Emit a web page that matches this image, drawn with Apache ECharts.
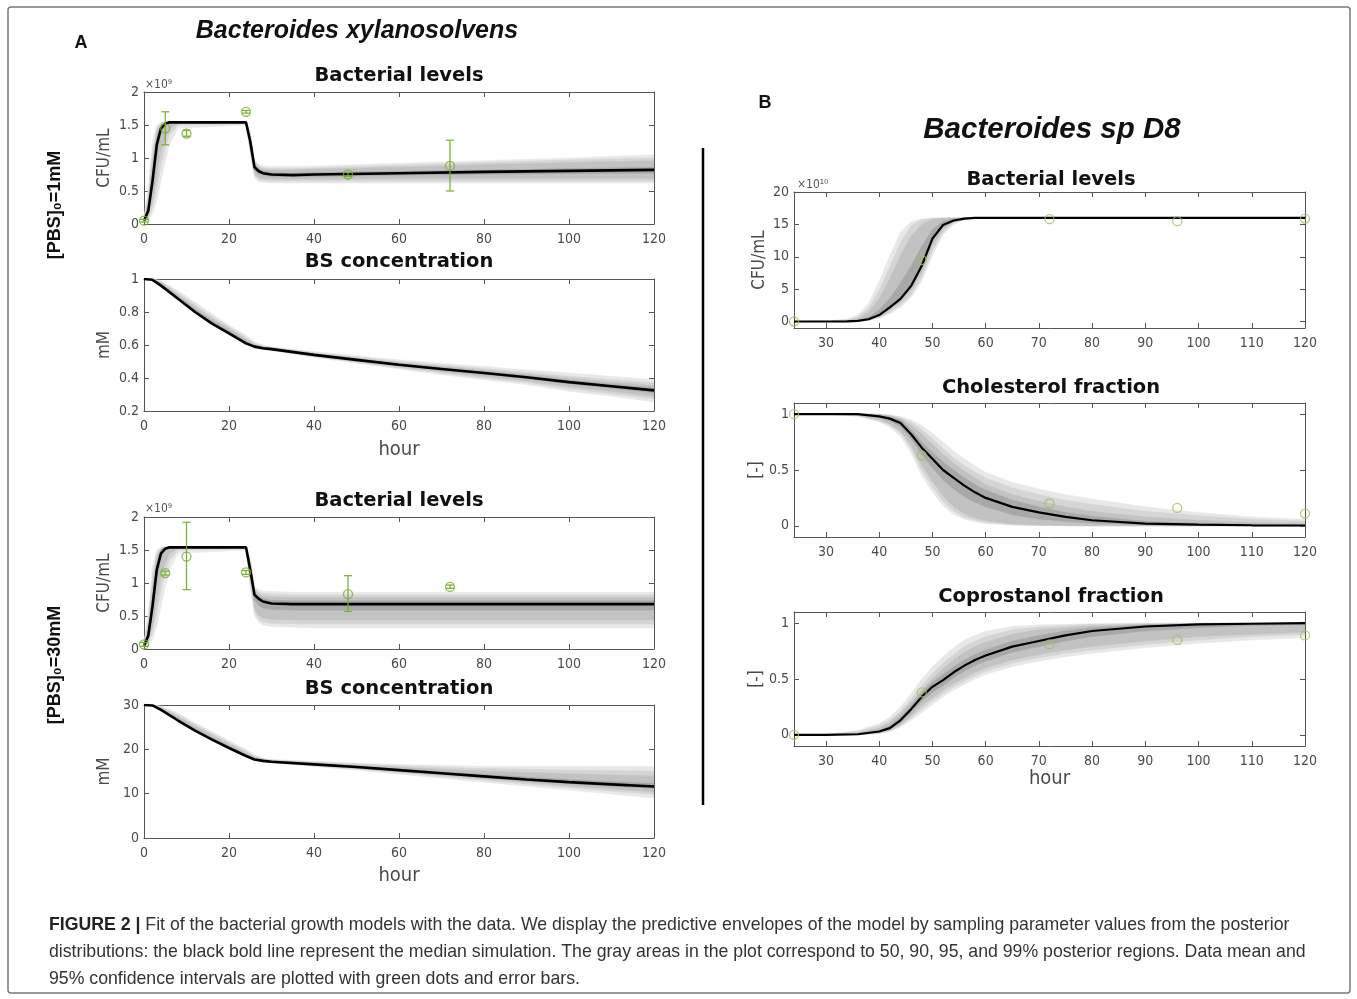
<!DOCTYPE html>
<html><head><meta charset="utf-8">
<script src="https://cdn.jsdelivr.net/npm/echarts@6/dist/echarts.min.js"></script>
<style>html,body{margin:0;padding:0;background:#fff}#c{width:1357px;height:999px}</style>
</head><body><div id="c"></div>
<script>
// ---------------- DATA ----------------
// Panel A, [PBS]0 = 1 mM and 30 mM : bacterial levels (x 1e9 CFU/mL)
const hoursA = [0,1,2,3,4,5,6,8,24,25,26,27,28,30,35,40,60,80,100,120];
const a1Median = [0.05,0.2,0.65,1.2,1.45,1.52,1.54,1.54,1.54,1.25,0.86,0.8,0.77,0.75,0.74,0.75,0.77,0.79,0.805,0.82];
const a1Lo99 = [0.03,0.06,0.15,0.35,0.65,0.95,1.2,1.45,1.5,1.05,0.7,0.64,0.63,0.62,0.62,0.62,0.62,0.62,0.62,0.62];
const a1Hi99 = [0.1,0.55,1.25,1.5,1.54,1.55,1.55,1.55,1.55,1.4,0.98,0.9,0.88,0.87,0.87,0.88,0.92,0.96,1.0,1.05];
const a1Lo95 = [0.04,0.09,0.25,0.55,0.9,1.15,1.35,1.5,1.52,1.1,0.73,0.67,0.66,0.65,0.65,0.65,0.65,0.65,0.65,0.65];
const a1Hi95 = [0.08,0.45,1.1,1.45,1.53,1.54,1.55,1.55,1.55,1.37,0.95,0.88,0.85,0.84,0.84,0.85,0.89,0.93,0.97,1.0];
const a1Lo90 = [0.04,0.12,0.35,0.75,1.1,1.3,1.45,1.52,1.53,1.15,0.76,0.7,0.69,0.68,0.68,0.68,0.69,0.69,0.69,0.69];
const a1Hi90 = [0.07,0.35,0.95,1.4,1.52,1.54,1.55,1.55,1.55,1.33,0.92,0.86,0.83,0.82,0.82,0.83,0.86,0.9,0.93,0.96];
const a1Lo50 = [0.05,0.17,0.55,1.05,1.38,1.5,1.53,1.54,1.54,1.22,0.82,0.76,0.74,0.72,0.72,0.72,0.74,0.75,0.76,0.77];
const a1Hi50 = [0.06,0.25,0.8,1.3,1.5,1.53,1.54,1.54,1.54,1.29,0.89,0.83,0.8,0.78,0.77,0.78,0.8,0.82,0.84,0.86];
const a1ObsHours = [0,5,10,24,48,72];
const a1ObsMean = [0.05,1.45,1.37,1.7,0.75,0.88];
const a1ObsLow  = [0.03,1.2,1.33,1.68,0.72,0.5];
const a1ObsHigh = [0.07,1.7,1.42,1.72,0.78,1.27];

const a3Median = [0.05,0.2,0.65,1.2,1.45,1.52,1.54,1.54,1.54,1.2,0.82,0.76,0.72,0.69,0.68,0.68,0.68,0.68,0.68,0.68];
const a3Lo99 = [0.03,0.06,0.15,0.35,0.65,0.95,1.2,1.45,1.5,0.95,0.5,0.4,0.36,0.34,0.33,0.32,0.32,0.32,0.32,0.32];
const a3Hi99 = [0.1,0.55,1.25,1.5,1.54,1.55,1.55,1.55,1.55,1.38,0.95,0.9,0.88,0.87,0.86,0.86,0.86,0.86,0.86,0.86];
const a3Lo95 = [0.04,0.09,0.25,0.55,0.9,1.15,1.35,1.5,1.52,1.0,0.56,0.45,0.41,0.39,0.38,0.38,0.38,0.38,0.38,0.38];
const a3Hi95 = [0.08,0.45,1.1,1.45,1.53,1.54,1.55,1.55,1.55,1.34,0.92,0.86,0.84,0.83,0.82,0.82,0.82,0.82,0.82,0.82];
const a3Lo90 = [0.04,0.12,0.35,0.75,1.1,1.3,1.45,1.52,1.53,1.05,0.62,0.51,0.47,0.45,0.44,0.44,0.44,0.44,0.44,0.44];
const a3Hi90 = [0.07,0.35,0.95,1.4,1.52,1.54,1.55,1.55,1.55,1.3,0.9,0.83,0.8,0.79,0.78,0.78,0.78,0.78,0.78,0.78];
const a3Lo50 = [0.05,0.17,0.55,1.05,1.38,1.5,1.53,1.54,1.54,1.14,0.74,0.66,0.62,0.6,0.59,0.59,0.59,0.59,0.59,0.59];
const a3Hi50 = [0.06,0.25,0.8,1.3,1.5,1.53,1.54,1.54,1.54,1.25,0.86,0.8,0.76,0.74,0.73,0.73,0.73,0.73,0.73,0.73];
const a3ObsHours = [0,5,10,24,48,72];
const a3ObsMean = [0.07,1.15,1.4,1.16,0.83,0.94];
const a3ObsLow  = [0.04,1.12,0.9,1.13,0.57,0.92];
const a3ObsHigh = [0.1,1.18,1.92,1.19,1.11,0.97];

// Panel A : BS concentration (mM)
const hoursBS = [0,2,4,8,12,16,20,24,26,28,30,40,50,60,70,80,90,100,110,120];
const a2Median = [1,0.995,0.96,0.88,0.8,0.73,0.67,0.61,0.59,0.58,0.575,0.54,0.51,0.48,0.455,0.43,0.405,0.375,0.35,0.325];
const a2Lo99 = [1,0.99,0.955,0.875,0.795,0.725,0.665,0.6,0.58,0.57,0.565,0.525,0.49,0.455,0.42,0.39,0.36,0.32,0.29,0.255];
const a2Hi99 = [1,1,0.99,0.93,0.86,0.79,0.72,0.66,0.62,0.6,0.59,0.56,0.535,0.51,0.49,0.47,0.45,0.43,0.41,0.39];
const a2Lo95 = [1,0.992,0.957,0.877,0.797,0.727,0.667,0.603,0.583,0.573,0.567,0.53,0.495,0.462,0.43,0.4,0.372,0.335,0.305,0.275];
const a2Hi95 = [1,1,0.985,0.915,0.845,0.775,0.71,0.645,0.61,0.595,0.587,0.553,0.527,0.5,0.478,0.457,0.435,0.41,0.39,0.37];
const a2Lo90 = [1,0.993,0.958,0.878,0.798,0.728,0.668,0.605,0.585,0.575,0.57,0.533,0.5,0.467,0.438,0.41,0.383,0.348,0.32,0.29];
const a2Hi90 = [1,0.998,0.978,0.905,0.83,0.76,0.7,0.635,0.603,0.59,0.583,0.549,0.521,0.494,0.471,0.448,0.425,0.398,0.375,0.355];
const a2Lo50 = [1,0.994,0.959,0.879,0.799,0.729,0.669,0.608,0.588,0.578,0.572,0.537,0.506,0.475,0.448,0.422,0.396,0.365,0.338,0.31];
const a2Hi50 = [1,0.997,0.97,0.892,0.815,0.745,0.685,0.622,0.597,0.585,0.579,0.545,0.515,0.486,0.462,0.438,0.414,0.386,0.362,0.34];

const a4Median = [30,29.9,28.9,26.5,24.2,22.2,20.3,18.5,17.7,17.4,17.2,16.6,16,15.3,14.6,13.9,13.2,12.6,12.1,11.6];
const a4Lo99 = [30,29.8,28.8,26.4,24.1,22.1,20.2,18.3,17.5,17.1,16.9,16.1,15.3,14.4,13.5,12.6,11.7,10.8,9.9,9.0];
const a4Hi99 = [30,30,29.8,28.2,26,24,22,20,18.8,18,17.7,17.3,16.9,16.6,16.4,16.2,16.1,16.1,16.1,16.1];
const a4Lo95 = [30,29.85,28.85,26.45,24.15,22.15,20.25,18.4,17.6,17.2,17.0,16.3,15.55,14.7,13.9,13.05,12.2,11.4,10.6,9.8];
const a4Hi95 = [30,30,29.6,27.8,25.6,23.6,21.6,19.6,18.5,17.85,17.6,17.15,16.7,16.3,15.95,15.7,15.5,15.3,15.2,15.1];
const a4Lo90 = [30,29.87,28.87,26.47,24.17,22.17,20.27,18.43,17.63,17.27,17.07,16.4,15.7,14.9,14.15,13.35,12.55,11.8,11.1,10.4];
const a4Hi90 = [30,29.98,29.4,27.4,25.2,23.2,21.2,19.2,18.2,17.7,17.45,16.95,16.45,15.95,15.5,15.1,14.8,14.5,14.2,14.0];
const a4Lo50 = [30,29.88,28.88,26.48,24.18,22.18,20.28,18.46,17.67,17.33,17.13,16.5,15.85,15.1,14.4,13.65,12.9,12.25,11.7,11.15];
const a4Hi50 = [30,29.95,29.15,26.9,24.6,22.6,20.7,18.8,17.9,17.55,17.33,16.75,16.2,15.6,14.95,14.35,13.75,13.2,12.75,12.3];

// Panel B : Bacteroides sp D8, bacterial levels (x 1e10 CFU/mL)
const hoursB1 = [24,30,34,36,38,40,42,44,46,48,50,52,54,56,58,60,65,70,80,90,100,110,120];
const b1Median = [0,0,0.02,0.1,0.35,1.0,2.2,3.5,5.5,8.6,12.8,14.9,15.6,15.9,16,16,16,16,16,16,16,16,16];
const b1Lo99 = [0,0,0,0.03,0.15,0.5,1.2,2.2,3.7,6.2,10.2,13.4,15,15.7,15.9,16,16,16,16,16,16,16,16];
const b1Hi99 = [0,0.05,0.4,1.0,2.8,6.2,10.2,13.8,15.4,15.85,16,16,16,16,16,16,16,16,16,16,16,16,16];
const b1Lo95 = [0,0,0.005,0.05,0.2,0.6,1.4,2.5,4.1,6.8,10.9,13.8,15.2,15.75,15.95,16,16,16,16,16,16,16,16];
const b1Hi95 = [0,0.03,0.25,0.7,2.0,4.8,8.4,12.2,14.8,15.7,15.95,16,16,16,16,16,16,16,16,16,16,16,16];
const b1Lo90 = [0,0,0.01,0.07,0.27,0.8,1.8,3.0,4.8,7.6,11.7,14.3,15.4,15.85,16,16,16,16,16,16,16,16,16];
const b1Hi90 = [0,0.02,0.15,0.45,1.4,3.5,6.6,10.2,13.2,15.0,15.8,15.95,16,16,16,16,16,16,16,16,16,16,16];
const b1Lo50 = [0,0,0.015,0.08,0.31,0.9,2.0,3.3,5.2,8.2,12.4,14.7,15.5,15.9,16,16,16,16,16,16,16,16,16];
const b1Hi50 = [0,0.01,0.05,0.2,0.65,1.8,3.6,5.9,8.6,11.6,14.2,15.5,15.85,16,16,16,16,16,16,16,16,16,16];
const b1ObsHours = [24,48,72,96,120];
const b1ObsMean = [0,9.5,15.8,15.5,15.9];

// Panel B : cholesterol and coprostanol fractions
const hoursB23 = [24,30,36,40,42,44,46,48,50,52,54,56,58,60,65,70,75,80,90,100,110,120];
const b2Median = [1,1,1,0.98,0.96,0.92,0.82,0.7,0.6,0.5,0.43,0.36,0.3,0.25,0.17,0.12,0.08,0.05,0.02,0.01,0.005,0.003];
const b2Lo99 = [1,1,0.98,0.93,0.88,0.8,0.65,0.45,0.3,0.18,0.1,0.06,0.035,0.02,0.006,0.002,0,0,0,0,0,0];
const b2Hi99 = [1,1,1,1,0.995,0.98,0.95,0.9,0.83,0.75,0.67,0.6,0.54,0.48,0.39,0.33,0.28,0.24,0.17,0.12,0.08,0.06];
const b2Lo95 = [1,1,0.985,0.94,0.9,0.83,0.69,0.5,0.35,0.22,0.13,0.08,0.05,0.03,0.01,0.004,0.001,0,0,0,0,0];
const b2Hi95 = [1,1,1,1,0.99,0.97,0.93,0.86,0.78,0.69,0.61,0.54,0.48,0.43,0.34,0.28,0.23,0.19,0.13,0.09,0.06,0.04];
const b2Lo90 = [1,1,0.99,0.95,0.91,0.85,0.72,0.55,0.4,0.27,0.17,0.11,0.07,0.045,0.018,0.007,0.003,0.001,0,0,0,0];
const b2Hi90 = [1,1,1,1,0.985,0.96,0.9,0.82,0.73,0.64,0.56,0.49,0.43,0.37,0.28,0.22,0.17,0.13,0.08,0.05,0.03,0.02];
const b2Lo50 = [1,1,0.995,0.97,0.94,0.89,0.78,0.64,0.52,0.41,0.33,0.26,0.21,0.17,0.1,0.06,0.04,0.025,0.01,0.004,0.002,0.001];
const b2Hi50 = [1,1,1,0.99,0.975,0.95,0.86,0.75,0.66,0.57,0.5,0.43,0.37,0.32,0.23,0.17,0.12,0.085,0.04,0.02,0.012,0.008];
const b2ObsHours = [24,48,72,96,120];
const b2ObsMean = [1,0.63,0.2,0.16,0.11];

const b3Median = [0,0,0.005,0.03,0.06,0.13,0.23,0.34,0.43,0.49,0.56,0.62,0.67,0.71,0.79,0.84,0.89,0.93,0.97,0.99,0.995,1.0];
const b3Lo99 = [0,0,0,0.01,0.03,0.07,0.13,0.2,0.27,0.34,0.4,0.45,0.5,0.54,0.61,0.66,0.7,0.73,0.78,0.82,0.85,0.87];
const b3Hi99 = [0,0.005,0.04,0.1,0.16,0.25,0.37,0.5,0.61,0.7,0.78,0.85,0.89,0.93,0.97,0.985,0.99,0.995,1,1,1,1];
const b3Lo95 = [0,0,0.001,0.015,0.035,0.08,0.15,0.23,0.3,0.37,0.43,0.48,0.53,0.57,0.64,0.69,0.73,0.76,0.81,0.85,0.88,0.9];
const b3Hi95 = [0,0.003,0.03,0.08,0.13,0.21,0.32,0.44,0.55,0.64,0.72,0.79,0.84,0.88,0.94,0.965,0.98,0.99,0.998,1,1,1];
const b3Lo90 = [0,0,0.002,0.02,0.04,0.09,0.17,0.26,0.33,0.4,0.46,0.51,0.56,0.6,0.67,0.72,0.76,0.79,0.84,0.88,0.9,0.92];
const b3Hi90 = [0,0.002,0.02,0.06,0.11,0.19,0.29,0.4,0.5,0.59,0.67,0.74,0.79,0.83,0.9,0.94,0.96,0.975,0.99,0.997,1,1];
const b3Lo50 = [0,0,0.003,0.025,0.05,0.11,0.2,0.3,0.38,0.44,0.51,0.57,0.62,0.66,0.74,0.79,0.84,0.88,0.93,0.96,0.98,0.985];
const b3Hi50 = [0,0.001,0.01,0.04,0.08,0.16,0.26,0.38,0.47,0.54,0.61,0.67,0.72,0.76,0.84,0.89,0.93,0.96,0.985,0.995,0.998,1];
const b3ObsHours = [24,48,72,96,120];
const b3ObsMean = [0,0.38,0.81,0.85,0.89];

// Tick labels
const ticksHoursB = [30,40,50,60,70,80,90,100,110,120];
const ticksCFU_B = [0,5,10,15,20];
const ticksFrac = [0,0.5,1];

// ---------------- STYLE / LAYOUT ----------------
const FONT = "'DejaVu Sans Condensed','DejaVu Sans',sans-serif";
const TFONT = "'DejaVu Sans',sans-serif";
const SANS = "'Liberation Sans',Arial,sans-serif";
const AX = '#555';
const LBL = '#4a4a4a';
const GREEN = '#77AC30';
const GREEN_B = '#9cc25e';
const BAND_COLORS = ['#e8e8e8', '#d5d5d5', '#c2c2c2', '#a8a8a8'];

const grids = [
  {left:144, top:92,  width:510, height:132},
  {left:144, top:279, width:510, height:132},
  {left:144, top:517, width:510, height:132},
  {left:144, top:705, width:510, height:133},
  {left:794, top:192, width:511, height:136},
  {left:794, top:403, width:511, height:134},
  {left:794, top:612, width:511, height:134}
];

const xAxes = [], yAxes = [], series = [];

function axisPair(list, gi, dir, spec, name, nameGap) {
  const isX = dir === 'x';
  const base = {
    gridIndex: gi, type: 'value', min: spec.min, max: spec.max,
    splitLine: {show: false},
    axisLine: {show: true, onZero: false, lineStyle: {color: AX, width: 1}},
  };
  if (spec.interval != null) base.interval = spec.interval;
  const tick = {show: true, inside: true, length: 5, lineStyle: {color: AX, width: 1}};
  if (spec.custom) tick.customValues = spec.custom;
  const lab = {show: true, color: LBL, fontSize: 14, fontFamily: FONT, margin: isX ? 8 : 5};
  if (spec.custom) lab.customValues = spec.custom;
  const main = Object.assign({}, base, {
    position: isX ? 'bottom' : 'left',
    axisTick: tick, axisLabel: lab
  });
  if (name) {
    main.name = name; main.nameLocation = 'middle'; main.nameGap = nameGap;
    main.nameTextStyle = {color: LBL, fontSize: isX ? 20 : 17, fontFamily: FONT};
  }
  const mirror = Object.assign({}, base, {
    position: isX ? 'top' : 'right',
    axisTick: Object.assign({}, tick), axisLabel: {show: false}
  });
  list.push(main, mirror);
}

function addPanel(gi, hours, median, bands, lineWidth) {
  bands.forEach((b, j) => {
    const lo = b[0], hi = b[1];
    series.push({
      type: 'custom', xAxisIndex: 2*gi, yAxisIndex: 2*gi, silent: true, z: 1, clip: true,
      data: hours.map((t, k) => [t, lo[k], hi[k]]),
      encode: {x: 0, y: [1, 2]},
      renderItem: function (params, api) {
        if (params.dataIndex !== 0) return null;
        const pts = [];
        for (let k = 0; k < hours.length; k++) pts.push(api.coord([hours[k], hi[k]]));
        for (let k = hours.length - 1; k >= 0; k--) pts.push(api.coord([hours[k], lo[k]]));
        return {type: 'polygon', shape: {points: pts},
          style: {fill: BAND_COLORS[j], stroke: BAND_COLORS[j], lineWidth: 0.5}};
      }
    });
  });
  series.push({
    type: 'line', xAxisIndex: 2*gi, yAxisIndex: 2*gi,
    data: hours.map((t, k) => [t, median[k]]), symbol: 'none', silent: true,
    lineStyle: {color: '#000', width: lineWidth}, z: 3
  });
}

function addObs(gi, hours, mean, color, low, high) {
  if (low) {
    series.push({
      type: 'custom', xAxisIndex: 2*gi, yAxisIndex: 2*gi, z: 4, silent: true,
      data: hours.map((t, k) => [t, low[k], high[k]]),
      encode: {x: 0, y: [1, 2]},
      renderItem: function (params, api) {
        const x = api.value(0);
        const p1 = api.coord([x, api.value(1)]);
        const p2 = api.coord([x, api.value(2)]);
        const w = 4;
        const st = {stroke: color, lineWidth: 1.2};
        return {type: 'group', children: [
          {type: 'line', shape: {x1: p1[0], y1: p1[1], x2: p2[0], y2: p2[1]}, style: st},
          {type: 'line', shape: {x1: p1[0]-w, y1: p1[1], x2: p1[0]+w, y2: p1[1]}, style: st},
          {type: 'line', shape: {x1: p2[0]-w, y1: p2[1], x2: p2[0]+w, y2: p2[1]}, style: st}
        ]};
      }
    });
  }
  series.push({
    type: 'scatter', xAxisIndex: 2*gi, yAxisIndex: 2*gi, z: 5, silent: true,
    data: hours.map((t, k) => [t, mean[k]]), symbol: 'circle', symbolSize: 9, clip: false,
    itemStyle: {color: 'rgba(255,255,255,0)', borderColor: color, borderWidth: 1.3}
  });
}

// axes
const xA = {min: 0, max: 120, interval: 20};
const xB = {min: 24, max: 120, custom: ticksHoursB};
axisPair(xAxes, 0, 'x', xA); axisPair(yAxes, 0, 'y', {min: 0, max: 2, interval: 0.5}, 'CFU/mL', 31);
axisPair(xAxes, 1, 'x', xA, 'hour', 29); axisPair(yAxes, 1, 'y', {min: 0.2, max: 1, interval: 0.2}, 'mM', 31);
axisPair(xAxes, 2, 'x', xA); axisPair(yAxes, 2, 'y', {min: 0, max: 2, interval: 0.5}, 'CFU/mL', 31);
axisPair(xAxes, 3, 'x', xA, 'hour', 28); axisPair(yAxes, 3, 'y', {min: 0, max: 30, interval: 10}, 'mM', 31);
axisPair(xAxes, 4, 'x', xB); axisPair(yAxes, 4, 'y', {min: -1, max: 20, custom: ticksCFU_B}, 'CFU/mL', 26);
axisPair(xAxes, 5, 'x', xB); axisPair(yAxes, 5, 'y', {min: -0.1, max: 1.1, custom: ticksFrac}, '[-]', 28);
axisPair(xAxes, 6, 'x', xB, 'hour', 22); axisPair(yAxes, 6, 'y', {min: -0.1, max: 1.1, custom: ticksFrac}, '[-]', 28);

// series
addPanel(0, hoursA, a1Median, [[a1Lo99,a1Hi99],[a1Lo95,a1Hi95],[a1Lo90,a1Hi90],[a1Lo50,a1Hi50]], 2.6);
addObs(0, a1ObsHours, a1ObsMean, GREEN, a1ObsLow, a1ObsHigh);
addPanel(1, hoursBS, a2Median, [[a2Lo99,a2Hi99],[a2Lo95,a2Hi95],[a2Lo90,a2Hi90],[a2Lo50,a2Hi50]], 2.6);
addPanel(2, hoursA, a3Median, [[a3Lo99,a3Hi99],[a3Lo95,a3Hi95],[a3Lo90,a3Hi90],[a3Lo50,a3Hi50]], 2.6);
addObs(2, a3ObsHours, a3ObsMean, GREEN, a3ObsLow, a3ObsHigh);
addPanel(3, hoursBS, a4Median, [[a4Lo99,a4Hi99],[a4Lo95,a4Hi95],[a4Lo90,a4Hi90],[a4Lo50,a4Hi50]], 2.6);
addPanel(4, hoursB1, b1Median, [[b1Lo99,b1Hi99],[b1Lo95,b1Hi95],[b1Lo90,b1Hi90],[b1Lo50,b1Hi50]], 2.2);
addObs(4, b1ObsHours, b1ObsMean, GREEN_B);
addPanel(5, hoursB23, b2Median, [[b2Lo99,b2Hi99],[b2Lo95,b2Hi95],[b2Lo90,b2Hi90],[b2Lo50,b2Hi50]], 2.2);
addObs(5, b2ObsHours, b2ObsMean, GREEN_B);
addPanel(6, hoursB23, b3Median, [[b3Lo99,b3Hi99],[b3Lo95,b3Hi95],[b3Lo90,b3Hi90],[b3Lo50,b3Hi50]], 2.2);
addObs(6, b3ObsHours, b3ObsMean, GREEN_B);

// text / decorations
function txt(x, y, text, opt) {
  return {type: 'text', x: x, y: y, rotation: opt.rot || 0, silent: true, z: 10,
    style: Object.assign({text: text, textAlign: 'center', textVerticalAlign: 'middle',
      fill: '#111', fontFamily: TFONT, fontSize: 19.5, fontWeight: 'bold'}, opt.style || {})};
}
const titleStyle = {style: {fontSize: 19.5, fontWeight: 'bold', fill: '#111', fontFamily: TFONT}};
const expStyle = {style: {textAlign: 'left', fontSize: 12, fontWeight: 'normal', fill: '#555', fontFamily: FONT}};
const graphics = [
  {type: 'rect', shape: {x: 8, y: 7, width: 1342, height: 986, r: 3}, silent: true,
   style: {fill: 'none', stroke: '#7a7a7a', lineWidth: 1.5}},
  {type: 'line', shape: {x1: 703, y1: 148, x2: 703, y2: 805}, silent: true,
   style: {stroke: '#000', lineWidth: 2.5}},
  txt(81, 43, 'A', {style: {fontFamily: SANS, fontSize: 18}}),
  txt(765, 103, 'B', {style: {fontFamily: SANS, fontSize: 18}}),
  txt(357, 31, 'Bacteroides xylanosolvens', {style: {fontFamily: SANS, fontSize: 25, fontStyle: 'italic'}}),
  txt(1052, 130, 'Bacteroides sp D8', {style: {fontFamily: SANS, fontSize: 29.5, fontStyle: 'italic'}}),
  txt(55, 205, '[PBS]₀=1mM', {rot: Math.PI/2, style: {fontFamily: SANS, fontSize: 18}}),
  txt(55, 665, '[PBS]₀=30mM', {rot: Math.PI/2, style: {fontFamily: SANS, fontSize: 18}}),
  txt(399, 76, 'Bacterial levels', titleStyle),
  txt(399, 262, 'BS concentration', titleStyle),
  txt(399, 501, 'Bacterial levels', titleStyle),
  txt(399, 689, 'BS concentration', titleStyle),
  txt(1051, 180, 'Bacterial levels', titleStyle),
  txt(1051, 388, 'Cholesterol fraction', titleStyle),
  txt(1051, 597, 'Coprostanol fraction', titleStyle),
  txt(145, 85, '×10⁹', expStyle),
  txt(145, 509, '×10⁹', expStyle),
  txt(797, 185, '×10¹⁰', expStyle),
  {type: 'text', x: 49, y: 925, silent: true, z: 10, style: {
    text: '{b|FIGURE 2 |} Fit of the bacterial growth models with the data. We display the predictive envelopes of the model by sampling parameter values from the posterior',
    textVerticalAlign: 'middle', fill: '#333', fontFamily: SANS, fontSize: 17.7,
    rich: {b: {fontWeight: 'bold', fill: '#222', fontFamily: SANS, fontSize: 17.7}}}},
  {type: 'text', x: 49, y: 952, silent: true, z: 10, style: {
    text: 'distributions: the black bold line represent the median simulation. The gray areas in the plot correspond to 50, 90, 95, and 99% posterior regions. Data mean and',
    textVerticalAlign: 'middle', fill: '#333', fontFamily: SANS, fontSize: 17.7}},
  {type: 'text', x: 49, y: 979, silent: true, z: 10, style: {
    text: '95% confidence intervals are plotted with green dots and error bars.',
    textVerticalAlign: 'middle', fill: '#333', fontFamily: SANS, fontSize: 17.7}}
];

const chart = echarts.init(document.getElementById('c'), null, {renderer: 'canvas'});
chart.setOption({
  animation: false,
  backgroundColor: '#fff',
  grid: grids.map(g => Object.assign({containLabel: false, show: false}, g)),
  xAxis: xAxes,
  yAxis: yAxes,
  series: series,
  graphic: {elements: graphics}
});
</script></body></html>
